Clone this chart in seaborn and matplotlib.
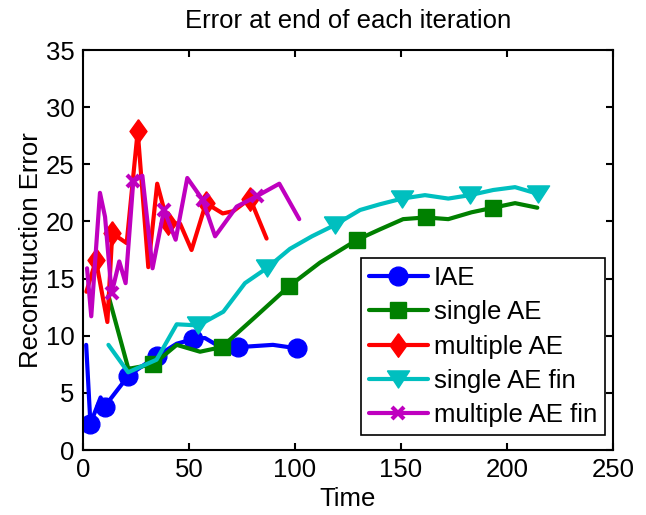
import matplotlib
matplotlib.use("Agg")
import matplotlib.pyplot as plt
import numpy as np
import pandas as pd
import seaborn as sns

# --- data ---
iae_t = [1.5, 3.5, 8.3, 10.2, 21.4, 34.7, 44.2, 52.0, 57.5, 63.0, 73.3, 89.6, 100.8]
iae_v = [9.2, 2.3, 4.6, 3.8, 6.5, 8.2, 9.3, 9.7, 9.8, 9.2, 9.0, 9.2, 8.9]
iae_mk = [1, 3, 4, 5, 7, 10, 12]

single_t = [12.0, 21.4, 33.2, 44.2, 55.2, 65.4, 81.0, 97.3, 111.8, 129.4, 140.0,
            151.0, 161.6, 172.3, 183.3, 193.5, 203.8, 214.3]
single_v = [13.5, 7.1, 7.5, 9.2, 8.6, 9.0, 11.6, 14.35, 16.4, 18.4, 19.3,
            20.2, 20.35, 20.2, 20.8, 21.2, 21.6, 21.2]
single_mk = [2, 5, 7, 9, 12, 15]

multi_t = [1.6, 6.1, 11.5, 13.8, 20.6, 25.8, 30.8, 35.0, 39.9, 45.8, 51.2, 58.0,
           65.9, 70.9, 78.8, 86.6]
multi_v = [13.85, 16.6, 11.2, 18.96, 18.1, 27.9, 16.0, 23.3, 19.9, 19.8, 17.5, 21.6,
           20.7, 20.9, 22.0, 18.5]
multi_mk = [1, 3, 5, 8, 11, 14]

single_fin_t = [12.0, 21.3, 34.7, 44.2, 54.4, 66.2, 76.4, 86.6, 97.6, 108.0, 118.9,
                130.7, 140.0, 150.6, 161.3, 172.3, 182.5, 193.5, 203.8, 214.8]
single_fin_v = [9.2, 6.8, 7.9, 11.0, 10.9, 12.1, 14.6, 15.9, 17.6, 18.7, 19.7,
                21.0, 21.5, 22.0, 22.3, 22.0, 22.3, 22.75, 23.0, 22.4]
single_fin_mk = [4, 7, 10, 13, 16, 19]

multi_fin_t = [1.9, 3.9, 8.0, 10.4, 13.5, 17.1, 20.1, 23.7, 28.0, 32.8, 38.2, 43.7,
               49.2, 56.4, 62.3, 72.5, 81.9, 92.6, 102.0]
multi_fin_v = [15.9, 11.7, 22.5, 20.4, 13.7, 16.5, 14.6, 23.5, 24.0, 15.9, 21.0, 18.4,
               23.8, 21.9, 18.7, 21.3, 22.2, 23.3, 20.2]
multi_fin_mk = [4, 7, 10, 13, 16]

# diamond / triangle shapes like MATLAB's
diamond = [(0, 1), (0.72, 0), (0, -1), (-0.72, 0), (0, 1)]
tri_down = [(-1, 0.77), (1, 0.77), (0, -0.77), (-1, 0.77)]

series = [
    ("IAE", iae_t, iae_v, iae_mk, "#0000ff", "o", 13.5, 1),
    ("single AE", single_t, single_v, single_mk, "#008000", "s", 11, 1),
    ("multiple AE", multi_t, multi_v, multi_mk, "#ff0000", diamond, 17, 1),
    ("single AE fin", single_fin_t, single_fin_v, single_fin_mk, "#00bfbf", tri_down, 16, 1),
    ("multiple AE fin", multi_fin_t, multi_fin_v, multi_fin_mk, "#bf00bf", "x", 9, 3),
]

sns.set_style("ticks")
plt.rcParams["font.family"] = ["Liberation Sans", "DejaVu Sans"]
plt.rcParams["text.color"] = "black"
plt.rcParams["axes.labelcolor"] = "black"
plt.rcParams["xtick.color"] = "black"
plt.rcParams["ytick.color"] = "black"

fs = 18.5
fig = plt.figure(figsize=(6.46, 5.15), dpi=100)
ax = fig.add_axes([83 / 646, 65 / 515, 530 / 646, 400 / 515])

for name, t, v, mk, col, marker, ms, mew in series:
    df = pd.DataFrame({"Time": t, "err": v})
    sns.lineplot(data=df, x="Time", y="err", sort=False, estimator=None,
                 color=col, lw=3, marker=marker, markersize=ms,
                 markeredgecolor=col, markerfacecolor=col,
                 markeredgewidth=mew, label=name, ax=ax)
    ax.lines[-1].set_markevery(mk)

ax.set_xlim(0, 250)
ax.set_ylim(0, 35)
ax.set_xticks(np.arange(0, 251, 50))
ax.set_yticks(np.arange(0, 36, 5))
ax.tick_params(which="both", direction="in", length=5, width=1.5,
               top=True, right=True, labelsize=fs, pad=6)
for sp in ax.spines.values():
    sp.set_visible(True)
    sp.set_linewidth(1.5)
    sp.set_color("black")

ax.set_xlabel("Time", fontsize=fs, labelpad=3)
ax.set_ylabel("Reconstruction Error", fontsize=fs, labelpad=2)
ax.set_title("Error at end of each iteration", fontsize=fs, pad=16)

leg = ax.legend(loc="lower right", bbox_to_anchor=(0.985, 0.0375), fontsize=fs,
                frameon=True, fancybox=False, framealpha=1, edgecolor="black",
                handlelength=2.3, handletextpad=0.25, labelspacing=0.4,
                borderpad=0.3, borderaxespad=0)
leg.get_frame().set_linewidth(1.2)

fig.savefig("out.png", dpi=100)
